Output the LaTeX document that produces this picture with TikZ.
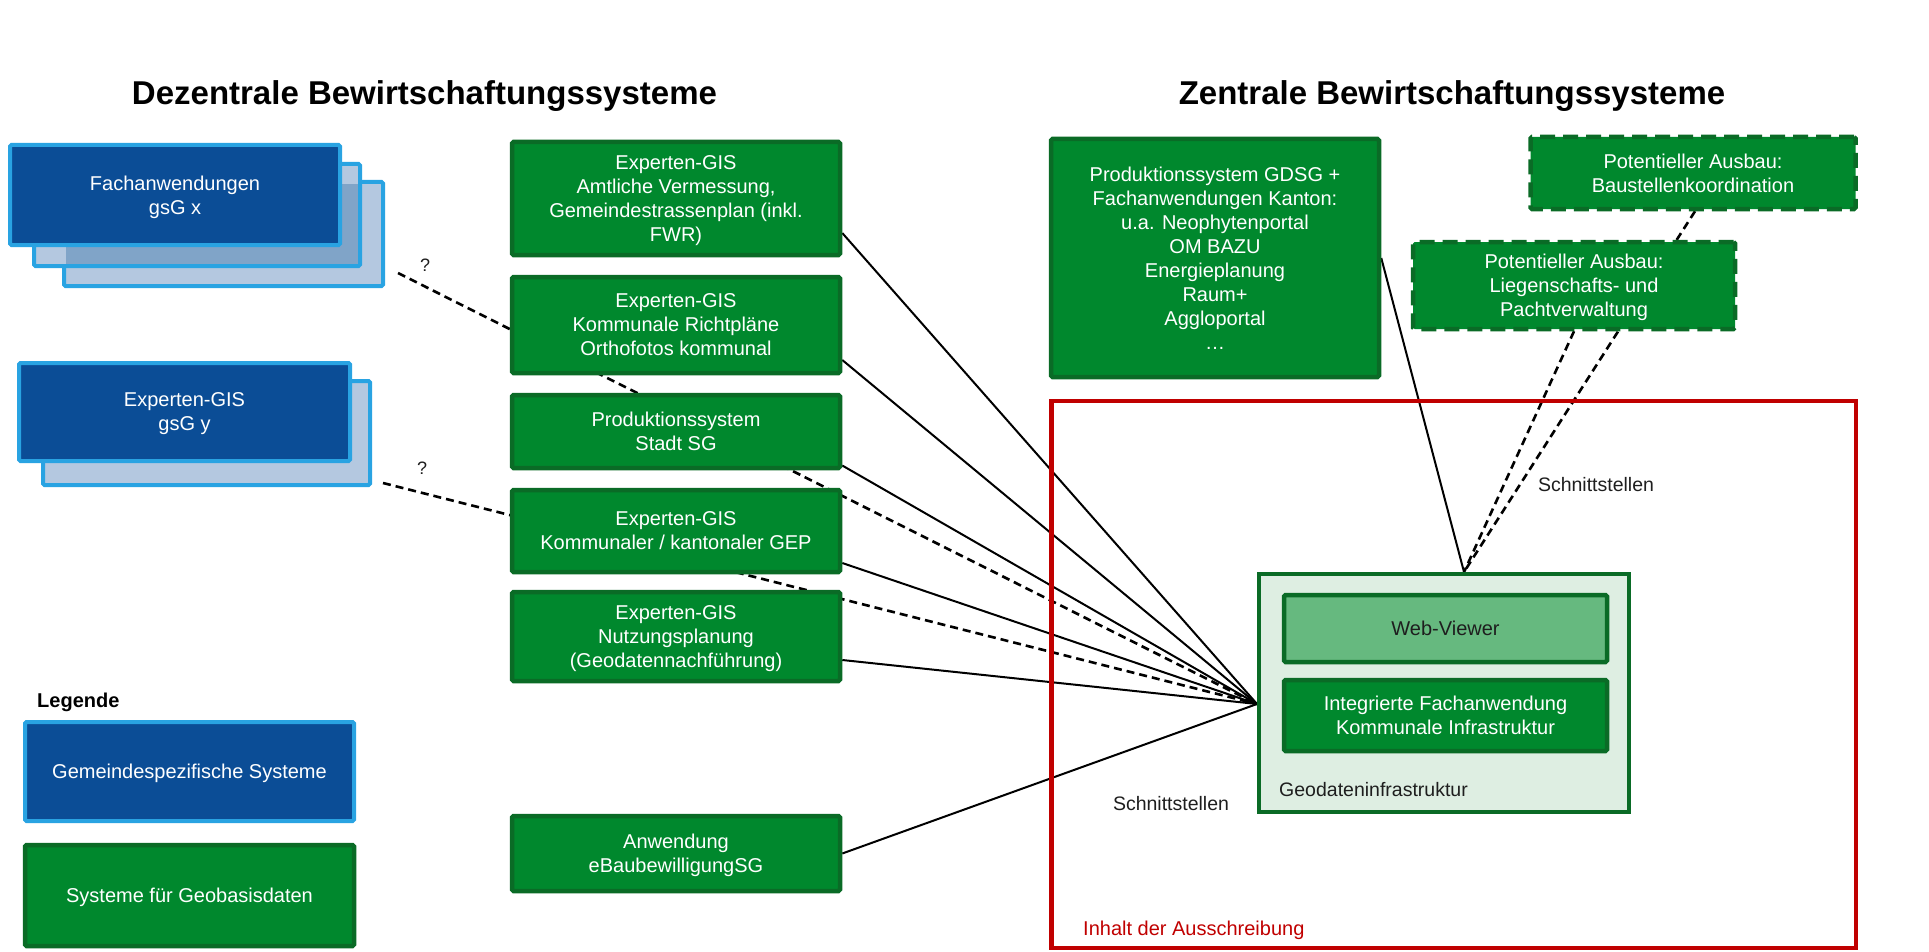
\documentclass[tikz,border=0pt]{standalone}
\usepackage{fontspec}
\setmainfont{Liberation Sans}
\usetikzlibrary{calc}
\definecolor{dblue}{RGB}{11,77,150}
\definecolor{lblue}{RGB}{41,163,226}
\definecolor{pblue}{RGB}{180,200,224}
\definecolor{oblue}{RGB}{128,164,200}
\definecolor{gfill}{RGB}{0,136,45}
\definecolor{gline}{RGB}{10,107,38}
\definecolor{wvfill}{RGB}{102,185,127}
\definecolor{geofill}{RGB}{222,238,226}
\definecolor{redb}{RGB}{192,0,0}
\definecolor{dtext}{RGB}{30,30,30}
\pgfdeclarelayer{bg}
\pgfsetlayers{bg,main}
\begin{document}
\begin{tikzpicture}[x=1pt,y=-1pt,
  every node/.style={font=\fontsize{20}{24}\selectfont, inner sep=0pt, align=center},
  bluebox/.style={draw=lblue, line width=4pt, fill=dblue, text=white, rounded corners=1.5pt, text depth=0pt},
  backbox/.style={draw=lblue, line width=4pt, fill=pblue, rounded corners=1.5pt},
  gbox/.style={draw=gline, line width=4.5pt, fill=gfill, text=white, rounded corners=1.5pt, text depth=0pt},
  pbox/.style={gbox, dash pattern=on 15pt off 8pt},
  conn/.style={line width=2pt, black},
  dconn/.style={line width=2.6pt, black, dash pattern=on 8pt off 5pt},
  lbl/.style={font=\fontsize{19.5}{23}\selectfont, text=dtext},
  head/.style={font=\fontsize{33}{40}\selectfont\bfseries, text=black},
]
\useasboundingbox (0,0) rectangle (1929,952);

% headings
\node[head] (h1) at (424.5,96) {Dezentrale Bewirtschaftungssysteme};
\node[head] (h2) at (1452,96) {Zentrale Bewirtschaftungssysteme};

% blue stack 1
\node[backbox, minimum width=319pt, minimum height=104pt] (b1c) at (223.5,234) {};
\node[backbox, minimum width=326pt, minimum height=102pt] (b1b) at (197,215) {};
\fill[oblue] (66,184) rectangle (358,264);
\node[bluebox, minimum width=330pt, minimum height=100pt] (b1a) at (175,195) {Fachanwendungen\\gsG x};

% blue stack 2
\node[backbox, minimum width=327pt, minimum height=104pt] (b2b) at (206.5,433) {};
\node[bluebox, minimum width=331pt, minimum height=98pt] (b2a) at (184.5,412) {Experten-GIS\\gsG y};

% middle column
\node[gbox, minimum width=328pt, minimum height=113pt] (g1) at (676,198.5) {Experten-GIS\\Amtliche Vermessung,\\Gemeindestrassenplan (inkl.\\FWR)};
\node[gbox, minimum width=328pt, minimum height=96pt] (g2) at (676,325) {Experten-GIS\\Kommunale Richtpläne\\Orthofotos kommunal};
\node[gbox, minimum width=328pt, minimum height=73pt] (g3) at (676,431.5) {Produktionssystem\\Stadt SG};
\node[gbox, minimum width=328pt, minimum height=82pt] (g4) at (676,531) {Experten-GIS\\Kommunaler / kantonaler GEP};
\node[gbox, minimum width=328pt, minimum height=89pt] (g5) at (676,636.5) {Experten-GIS\\Nutzungsplanung\\(Geodatennachführung)};
\node[gbox, minimum width=328pt, minimum height=75pt] (g6) at (676,853.5) {Anwendung\\eBaubewilligungSG};

% right side
\node[gbox, minimum width=328pt, minimum height=238pt] (big) at (1215,258) {Produktionssystem GDSG +\\Fachanwendungen Kanton:\\u.a. Neophytenportal\\OM BAZU\\Energieplanung\\Raum+\\Aggloportal\\\dots};
\node[pbox, minimum width=325pt, minimum height=72pt] (p1) at (1693,173) {Potentieller Ausbau:\\Baustellenkoordination};
\node[pbox, minimum width=322pt, minimum height=87pt] (p2) at (1574,285.5) {Potentieller Ausbau:\\Liegenschafts- und\\Pachtverwaltung};

% red frame
\node[draw=redb, line width=4.5pt, minimum width=804.5pt, minimum height=547pt] (red) at (1453.75,674.5) {};
\node[anchor=west, text=redb] (redlbl) at (1083,930) {Inhalt der Ausschreibung};

% Geodateninfrastruktur
\node[draw=gline, line width=4pt, fill=geofill, minimum width=370pt, minimum height=238pt] (geo) at (1444,693) {};
\node[gbox, fill=wvfill, text=dtext, minimum width=323pt, minimum height=67pt] (wv) at (1445.5,628.5) {Web-Viewer};
\node[gbox, minimum width=323pt, minimum height=71pt] (ifa) at (1445.5,715.5) {Integrierte Fachanwendung\\Kommunale Infrastruktur};
\node[lbl, anchor=west] (geolbl) at (1279,790) {Geodateninfrastruktur};

\coordinate (conv) at ([yshift=-11pt]geo.west);
\coordinate (geotop) at ([xshift=20pt]geo.north);

% labels
\node[lbl] (s1) at (1171,804) {Schnittstellen};
\node[lbl] (s2) at (1596,485) {Schnittstellen};
\node[lbl, font=\fontsize{18}{22}\selectfont] (q1) at (425,265) {?};
\node[lbl, font=\fontsize{18}{22}\selectfont] (q2) at (422,468) {?};

% legend
\node[anchor=west, font=\fontsize{20}{24}\selectfont\bfseries] (leg) at (37,702) {Legende};
\node[bluebox, minimum width=329pt, minimum height=99pt] (l1) at (189.5,771.5) {Gemeindespezifische Systeme};
\node[gbox, minimum width=329pt, minimum height=101pt] (l2) at (189.5,895.5) {Systeme für Geobasisdaten};

% connectors
\begin{pgfonlayer}{bg}
\draw[conn] ([yshift=-34.5pt]g1.east) -- (conv);
\draw[conn] ([yshift=-35pt]g2.east) -- (conv);
\draw[conn] ([yshift=-34pt]g3.east) -- (conv);
\draw[conn] ([yshift=-32pt]g4.east) -- (conv);
\draw[conn] ([yshift=-23.5pt]g5.east) -- (conv);
\draw[conn] (g6.east) -- (conv);
\draw[dconn] ([xshift=13pt,yshift=15pt]b1c.south east) -- (conv);
\draw[dconn] ([xshift=11pt,yshift=4pt]b2b.south east) -- (conv);
\draw[conn] (big.east) -- (geotop);
\draw[dconn] ([xshift=2pt]p1.south) -- (geotop);
\draw[dconn] (p2.south) -- (geotop);
\end{pgfonlayer}
\end{tikzpicture}
\end{document}
